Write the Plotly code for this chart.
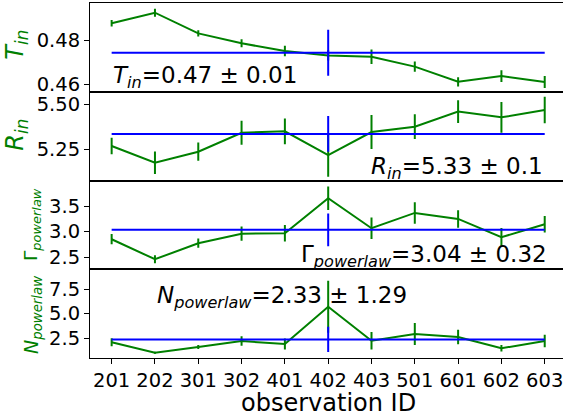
import plotly.graph_objects as go
from plotly.subplots import make_subplots

obs_ids = ["201", "202", "301", "302", "401", "402", "403", "501", "601", "602", "603"]

T_in = [0.4876, 0.4924, 0.4830, 0.4785, 0.4750, 0.4730, 0.4724, 0.4679, 0.4610, 0.4636, 0.4609]
T_err = [0.0015, 0.0018, 0.0014, 0.0018, 0.0024, 0.0023, 0.0033, 0.0023, 0.0021, 0.0027, 0.0027]
T_mean, T_std = 0.4742, 0.0105

R_in = [5.267, 5.173, 5.235, 5.341, 5.349, 5.216, 5.345, 5.375, 5.459, 5.427, 5.468]
R_err = [0.046, 0.063, 0.051, 0.067, 0.072, 0.121, 0.095, 0.069, 0.063, 0.086, 0.074]
R_mean, R_std = 5.334, 0.10

G_pl = [2.852, 2.462, 2.774, 2.961, 2.969, 3.651, 3.066, 3.365, 3.248, 2.891, 3.144]
G_err = [0.10, 0.08, 0.09, 0.14, 0.16, 0.23, 0.21, 0.21, 0.17, 0.18, 0.16]
G_mean, G_std = 3.035, 0.32

N_pl = [2.06, 1.00, 1.58, 2.19, 1.89, 5.69, 2.22, 2.91, 2.60, 1.45, 2.19]
N_err = [0.41, 0.10, 0.20, 0.49, 0.56, 2.65, 0.90, 1.12, 0.73, 0.34, 0.63]
N_mean, N_std = 2.35, 1.29

labels_mean = ["0.47", "5.33", "3.04", "2.33"]
labels_std = ["0.01", "0.1", "0.32", "1.29"]

y_ranges = [[0.45648, 0.49682], [5.0738, 5.5702], [2.267, 3.997], [0.459, 9.515]]
y_ticks = [[0.46, 0.48], [5.25, 5.50], [2.5, 3.0, 3.5], [2.5, 5.0, 7.5]]
y_ticktext = [["0.46", "0.48"], ["5.25", "5.50"], ["2.5", "3.0", "3.5"], ["2.5", "5.0", "7.5"]]

FONT = "DejaVu Sans"
W, H = 563, 420
ML, MR, MT, MB = 90, 0, 3, 62
PW, PH = W - ML - MR, H - MT - MB

def px(x):
    return (x - ML) / PW

def py(y):
    return (H - MB - y) / PH

fig = make_subplots(rows=4, cols=1, shared_xaxes=True, vertical_spacing=0)

xs = list(range(len(obs_ids)))
series = [(T_in, T_err, T_mean, T_std), (R_in, R_err, R_mean, R_std),
          (G_pl, G_err, G_mean, G_std), (N_pl, N_err, N_mean, N_std)]
mid = len(obs_ids) // 2
for i, (vals, errs, m, s) in enumerate(series):
    r = i + 1
    fig.add_trace(go.Scatter(x=xs, y=vals, mode="lines",
                             line=dict(color="green", width=2),
                             error_y=dict(type="data", array=errs, color="green",
                                          thickness=2, width=0, visible=True),
                             showlegend=False), row=r, col=1)
    berr = [0] * len(obs_ids)
    berr[mid] = s
    fig.add_trace(go.Scatter(x=xs, y=[m] * len(obs_ids), mode="lines",
                             line=dict(color="blue", width=2),
                             error_y=dict(type="data", array=berr, color="blue",
                                          thickness=2, width=0, visible=True),
                             showlegend=False), row=r, col=1)
    fig.update_yaxes(range=y_ranges[i], tickvals=y_ticks[i], ticktext=y_ticktext[i],
                     ticks="outside", ticklen=5, tickwidth=1, tickcolor="black",
                     showline=True, linecolor="black", linewidth=1, mirror=True,
                     showgrid=False, zeroline=False,
                     tickfont=dict(family=FONT, size=19.5, color="black"),
                     row=r, col=1)
    fig.update_xaxes(range=[-0.5, 10.422], showline=True, linecolor="black", linewidth=1,
                     mirror=True, showgrid=False, zeroline=False,
                     tickvals=xs, ticktext=obs_ids, ticklabeloverflow="allow",
                     ticks="outside" if r == 4 else "", ticklen=5, tickwidth=1, tickcolor="black",
                     showticklabels=(r == 4),
                     tickfont=dict(family=FONT, size=19.5, color="black"),
                     row=r, col=1)

annos = []
# y-axis labels (rotated)
ylabels = [("<i>T</i><sub><i>in</i></sub>", 16.7, 45, 24),
           ("<i>R</i><sub><i>in</i></sub>", 16.7, 135, 24),
           ("Γ<sub><i>powerlaw</i></sub>", 32, 225, 18.5),
           ("<i>N</i><sub><i>powerlaw</i></sub>", 32, 315, 19)]
for t, x, y, fs in ylabels:
    annos.append(dict(text=t, xref="paper", yref="paper", x=px(x), y=py(y),
                      xanchor="center", yanchor="middle", textangle=-90, showarrow=False,
                      font=dict(family=FONT, size=fs, color="green")))

names = ["<i>T</i><sub><i>in</i></sub>", "<i>R</i><sub><i>in</i></sub>",
         "Γ<sub><i>powerlaw</i></sub>", "<i>N</i><sub><i>powerlaw</i></sub>"]
pos = [(111, 77, "left"), (545, 168, "right"), (549, 256, "right"), (155, 297, "left")]
for i in range(4):
    x, y, anc = pos[i]
    annos.append(dict(text=f"{names[i]}={labels_mean[i]} ± {labels_std[i]}",
                      xref="paper", yref="paper", x=px(x), y=py(y),
                      xanchor=anc, yanchor="middle", showarrow=False,
                      font=dict(family=FONT, size=23, color="black")))

annos.append(dict(text="observation ID", xref="x4", yref="paper", x=mid, y=py(403),
                  xanchor="center", yanchor="middle", showarrow=False,
                  font=dict(family=FONT, size=24, color="black")))

fig.update_layout(width=W, height=H, margin=dict(l=ML, r=MR, t=MT, b=MB),
                  paper_bgcolor="white", plot_bgcolor="white", annotations=annos,
                  font=dict(family=FONT))
fig.write_html("out.html")
